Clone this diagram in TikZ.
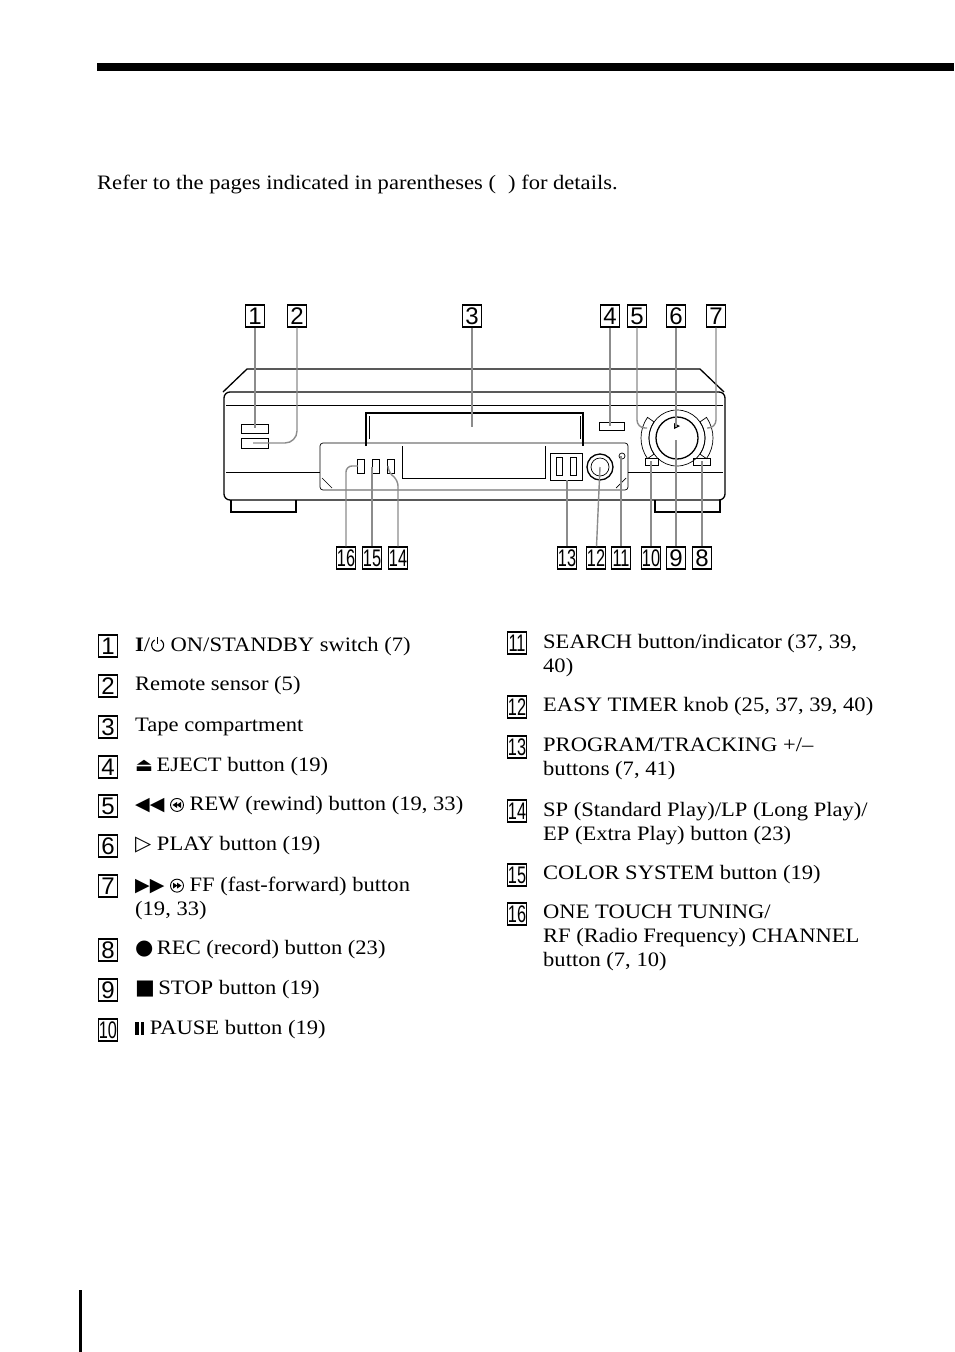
\documentclass[tikz,border=0pt]{standalone}
\usepackage{fontspec}
\setmainfont[FakeStretch=1.1]{Liberation Serif}
\newfontfamily\numfont{Liberation Sans}
\newfontfamily\symfont{DejaVu Sans}
\usetikzlibrary{positioning}

\tikzset{
  numbox/.style={draw, line width=1.2pt, inner sep=0pt, minimum width=19, minimum height=22,
    font=\numfont\fontsize{24}{24}\selectfont},
  itemtext/.style={anchor=west, align=left, inner sep=0pt,
    font=\fontsize{20.5}{24}\selectfont},
  leader/.style={draw=black!45, line width=1.4pt},
  body/.style={line width=1.3pt},
  thin/.style={line width=0.7pt}
}
\newcommand{\nb}[1]{\scalebox{0.68}[1]{#1}}
\newcommand{\sym}[2]{{\symfont\fontsize{#1}{#1}\selectfont #2}}
\newcommand{\pwr}{\tikz[baseline=0pt,x=1pt,y=1pt]{\draw[line width=1.2pt] (6,14) -- (6,7);
  \draw[line width=1.1pt] (9,11.2) arc (60:-240:6);}}
\newcommand{\rewsym}{\tikz[baseline=0pt,x=1pt,y=1pt]{\draw[line width=0.9pt] (7,6) circle (6.5);
  \fill (2.5,6) -- (7,9) -- (7,3) -- cycle; \fill (6.5,6) -- (11,9) -- (11,3) -- cycle;}}
\newcommand{\ffsym}{\tikz[baseline=0pt,x=1pt,y=1pt]{\draw[line width=0.9pt] (7,6) circle (6.5);
  \fill (11.5,6) -- (7,9) -- (7,3) -- cycle; \fill (7.5,6) -- (3,9) -- (3,3) -- cycle;}}
\newcommand{\pausesym}{\rule{3.5pt}{13pt}\hspace{2pt}\rule{3.5pt}{13pt}}

\begin{document}
\begin{tikzpicture}[x=1pt, y=-1pt]
\useasboundingbox (0,0) rectangle (954,1352);

% page rules
\fill (97,63) rectangle (954,71);
\fill (79,1290) rectangle (82,1352);
\node[itemtext] (intro) at (97,184) {Refer to the pages indicated in parentheses (\hspace{12pt}) for details.};

% ================= VCR body =================
\draw[body] (223,392) -- (247,369) -- (700,369) -- (724,392);
\draw[body, rounded corners=6] (224,500) -- (224,392) -- (725,392) -- (725,500) -- cycle;
\draw[thin] (226,405) -- (723,405);
\draw[thin] (226,472) -- (320,472);
\draw[thin] (628,472) -- (723,472);
% feet
\draw[body] (231,500) -- (231,512) -- (296,512) -- (296,500);
\draw[body] (655,500) -- (655,512) -- (720,512) -- (720,500);

% tape slot
\draw[body] (366,446) -- (366,413) -- (583,413) -- (583,446);
\draw[thin] (369,416) -- (369,439);
\draw[thin] (580,416) -- (580,439);
% flap
\draw[thin, rounded corners=3] (320,490) -- (320,443) -- (628,443) -- (628,490) -- cycle;
\draw[thin] (322,478) -- (332,488);
\draw[thin] (626,478) -- (616,488);
\draw[thin] (402,446) -- (402,478) -- (545,478) -- (545,446);

% left buttons
\draw[thin] (241,424) rectangle (268,433);
\draw[thin] (241,438) rectangle (268,448);
% eject
\draw[thin] (599,422) rectangle (624,430);
% dial
\draw[body] (677,438) circle (21);
\draw[thin] (677,438) circle (28);
\draw[thin] (677,438) ++(145:36) arc (145:215:36) -- ++(35:8) arc (215:145:28) -- cycle;
\draw[thin] (677,438) ++(35:36) arc (35:-35:36) -- ++(145:8) arc (-35:35:28) -- cycle;
\fill (674,423) -- (680,426) -- (674,429) -- cycle;
% small buttons
\draw[thin] (645,458) rectangle (658,465);
\draw[thin] (693,458) rectangle (710,465);
\foreach \x in {357,372,387}{
  \draw[thin] (\x,459) rectangle ++(7,14);
}
\draw[thin] (550,453) rectangle (582,480);
\draw[thin] (556,457) rectangle ++(6,18);
\draw[thin] (570,457) rectangle ++(6,18);
\draw[body] (600,467) circle (13);
\draw[thin] (600,467) circle (9);
\draw[thin] (622,456) circle (3);

% ================= labels =================
\foreach \n/\x in {1/255, 2/297, 3/472, 4/610, 5/637, 6/676, 7/716, 9/676, 8/702}{
  \node[numbox] (t\n) at (\x,\ifnum\n>7 558\else 316\fi) {\n};
}
\foreach \n/\x in {16/346, 15/372, 14/398, 13/567, 12/596, 11/621, 10/651}{
  \node[numbox] (t\n) at (\x,558) {\nb{\n}};
}
\coordinate (d1) at (255,428);
\coordinate (d2) at (253,443);
\coordinate (d3) at (472,427);
\coordinate (d4) at (610,426);
\coordinate (d5) at (647,428);
\coordinate (d6) at (676,427);
\coordinate (d7) at (707,428);
\coordinate (d16) at (358,466);
\coordinate (d15) at (372,467);
\coordinate (d14) at (388,467);
\coordinate (d13) at (567,480);
\coordinate (d12) at (600,467);
\coordinate (d11) at (621,456);
\coordinate (d10) at (651,461);
\coordinate (d9) at (676,440);
\coordinate (d8) at (702,461);

\draw[leader] (t1) -- (d1);
\draw[leader, rounded corners=12] (t2) -- (297,443) -- (d2);
\draw[leader] (t3) -- (d3);
\draw[leader] (t4) -- (d4);
\draw[leader, rounded corners=8] (t5) -- (637,428) -- (d5);
\draw[leader] (t6) -- (d6);
\draw[leader, rounded corners=8] (t7) -- (716,428) -- (d7);
\draw[leader, rounded corners=6] (t16) -- (346,466) -- (d16);
\draw[leader] (t15) -- (d15);
\draw[leader, rounded corners=6] (t14) -- (398,480) -- (388,472) -- (d14);
\draw[leader] (t13) -- (d13);
\draw[leader] (t12) -- (d12);
\draw[leader] (t11) -- (d11);
\draw[leader] (t10) -- (d10);
\draw[leader] (t9) -- (d9);
\draw[leader] (t8) -- (d8);

% ================= list =================
\foreach \n/\y in {1/646, 2/686, 3/727, 4/767, 5/806, 6/846, 7/886, 8/950, 9/990}{
  \node[numbox] (l\n) at (108,\y) {\n};
}
\node[numbox] (l10) at (108,1030) {\nb{10}};
\foreach \n/\y in {11/643, 12/707, 13/747, 14/811, 15/875, 16/914}{
  \node[numbox] (l\n) at (517,\y) {\nb{\n}};
}
\node[itemtext] (i1) at (135,646) {\textbf{I}/\pwr\ ON/STANDBY switch (7)};
\node[itemtext] (i2) at (135,686) {Remote sensor (5)};
\node[itemtext] (i3) at (135,727) {Tape compartment};
\node[itemtext] (i4) at (135,767) {\sym{19}{⏏}\,EJECT button (19)};
\node[itemtext] (i5) at (135,806) {\sym{19}{◀◀}\ \rewsym\ REW (rewind) button (19, 33)};
\node[itemtext] (i6) at (135,846) {\sym{21}{▷}\ PLAY button (19)};
\node[itemtext, anchor=north west] (i7) at (135,877) {\sym{19}{▶▶}\ \ffsym\ FF (fast-forward) button\\(19, 33)};
\node[itemtext] (i8) at (135,950) {\sym{21}{●}\,REC (record) button (23)};
\node[itemtext] (i9) at (135,990) {\sym{21}{■}\,STOP button (19)};
\node[itemtext] (i10) at (135,1030) {\pausesym\ PAUSE button (19)};

\node[itemtext, anchor=north west] (i11) at (543,634) {SEARCH button/indicator (37, 39,\\40)};
\node[itemtext] (i12) at (543,707) {EASY TIMER knob (25, 37, 39, 40)};
\node[itemtext, anchor=north west] (i13) at (543,738) {PROGRAM/TRACKING +/--\\buttons (7, 41)};
\node[itemtext, anchor=north west] (i14) at (543,802) {SP (Standard Play)/LP (Long Play)/\\EP (Extra Play) button (23)};
\node[itemtext] (i15) at (543,875) {COLOR SYSTEM button (19)};
\node[itemtext, anchor=north west] (i16) at (543,905) {ONE TOUCH TUNING/\\RF (Radio Frequency) CHANNEL\\button (7, 10)};
\end{tikzpicture}
\end{document}
